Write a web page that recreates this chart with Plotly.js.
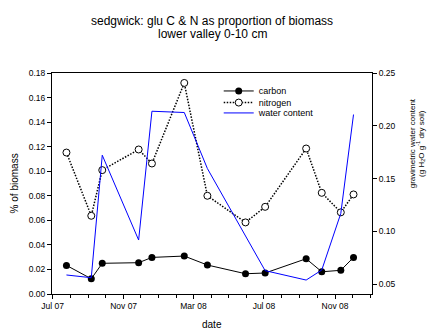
<!DOCTYPE html>
<html>
<head>
<meta charset="utf-8">
<script src="https://cdn.plot.ly/plotly-3.0.1.min.js"></script>
<style>html,body{margin:0;padding:0;background:#fff}#chart{width:427px;height:329px}</style>
</head>
<body>
<div id="chart"></div>
<script>
const dates = ['2007-07-25','2007-09-06','2007-09-25','2007-11-27','2007-12-20','2008-02-14','2008-03-25','2008-05-30','2008-07-03','2008-09-12','2008-10-09','2008-11-11','2008-12-03'];
const carbon = [0.0233,0.0124,0.0250,0.0255,0.0298,0.0309,0.0236,0.0165,0.0171,0.0287,0.0181,0.0193,0.0298];
const nitrogen = [0.1152,0.0637,0.1009,0.1177,0.1063,0.1719,0.0800,0.0583,0.0710,0.1185,0.0824,0.0665,0.0811];
const water = [0.0588,0.0562,0.1722,0.0919,0.2138,0.2126,0.1596,0.0957,0.0629,0.0540,0.0635,0.1171,0.2107];
const yTicks = [0,0.02,0.04,0.06,0.08,0.10,0.12,0.14,0.16,0.18];
const y2Ticks = [0.05,0.10,0.15,0.20,0.25];

const F = 'Liberation Sans, Arial, sans-serif';
const traces = [
  {x: dates, y: water, yaxis: 'y2', name: 'water content', mode: 'lines',
   line: {color: '#0000ff', width: 1}, legend: 'legend3'},
  {x: dates, y: nitrogen, name: 'nitrogen', mode: 'lines+markers',
   line: {color: '#000', width: 1.5, dash: '1.5px,1.5px'},
   marker: {symbol: 'circle', size: 7, color: '#fff', line: {color: '#000', width: 1}}, legend: 'legend2'},
  {x: dates, y: carbon, name: 'carbon', mode: 'lines+markers',
   line: {color: '#000', width: 1},
   marker: {symbol: 'circle', size: 7, color: '#000'}, legend: 'legend'}
];
const legBase = {x: 0.521, xanchor: 'left', yanchor: 'middle', bgcolor: 'rgba(0,0,0,0)', borderwidth: 0, font: {family: F, size: 9, color: '#000'}};
const layout = {
  width: 427, height: 329,
  margin: {l: 52, r: 55, t: 73, b: 35},
  paper_bgcolor: '#fff', plot_bgcolor: '#fff',
  font: {family: F, size: 8.5, color: '#000'},
  showlegend: true,
  legend: Object.assign({}, legBase, {y: 0.9187}),
  legend2: Object.assign({}, legBase, {y: 0.8662}),
  legend3: Object.assign({}, legBase, {y: 0.8193}),
  xaxis: {type: 'date', range: ['2007-06-30', '2009-01-04'], tick0: '2007-07-01', dtick: 'M4',
    tickformat: '%b %y', ticks: 'outside', ticklen: 4, tickcolor: '#000', showgrid: false, zeroline: false,
    showline: true, linecolor: '#000', linewidth: 1, mirror: true,
    minor: {dtick: 'M1', tick0: '2007-07-01', ticks: 'outside', ticklen: 3, tickcolor: '#000', showgrid: false},
    tickfont: {family: F, size: 8.5}},
  yaxis: {range: [0, 0.18], tickvals: yTicks, tickformat: '.2f', ticks: 'outside', ticklen: 4, tickcolor: '#000',
    showgrid: false, zeroline: false, showline: true, linecolor: '#000', linewidth: 1, tickfont: {family: F, size: 8.5}},
  yaxis2: {overlaying: 'y', side: 'right', range: [0.0408, 0.25], tickvals: y2Ticks, tickformat: '.2f',
    ticks: 'outside', ticklen: 4, tickcolor: '#000', showgrid: false, zeroline: false, showline: true,
    linecolor: '#000', linewidth: 1, tickfont: {family: F, size: 8.5}},
  annotations: [
    {text: 'sedgwick: glu C &amp; N as proportion of biomass', xref: 'paper', yref: 'paper', x: 0.5, y: 1.235, xanchor: 'center', yanchor: 'middle', showarrow: false, font: {family: F, size: 12}},
    {text: 'lower valley 0-10 cm', xref: 'paper', yref: 'paper', x: 0.5, y: 1.178, xanchor: 'center', yanchor: 'middle', showarrow: false, font: {family: F, size: 12}},
    {text: 'date', xref: 'paper', yref: 'paper', x: 0.5, y: -0.14, xanchor: 'center', yanchor: 'middle', showarrow: false, font: {family: F, size: 10}},
    {text: '% of biomass', xref: 'paper', yref: 'paper', x: -0.116, y: 0.5, xanchor: 'center', yanchor: 'middle', textangle: -90, showarrow: false, font: {family: F, size: 10}},
    {text: 'gravimetric water content', xref: 'paper', yref: 'paper', x: 1.125, y: 0.682, xanchor: 'center', yanchor: 'middle', textangle: -90, showarrow: false, font: {family: F, size: 8}},
    {text: '(g H<sub>2</sub>O g<sup>-1</sup> dry soil)', xref: 'paper', yref: 'paper', x: 1.152, y: 0.682, xanchor: 'center', yanchor: 'middle', textangle: -90, showarrow: false, font: {family: F, size: 8}}
  ]
};
Plotly.newPlot('chart', traces, layout, {displayModeBar: false, staticPlot: true});
</script>
</body>
</html>
